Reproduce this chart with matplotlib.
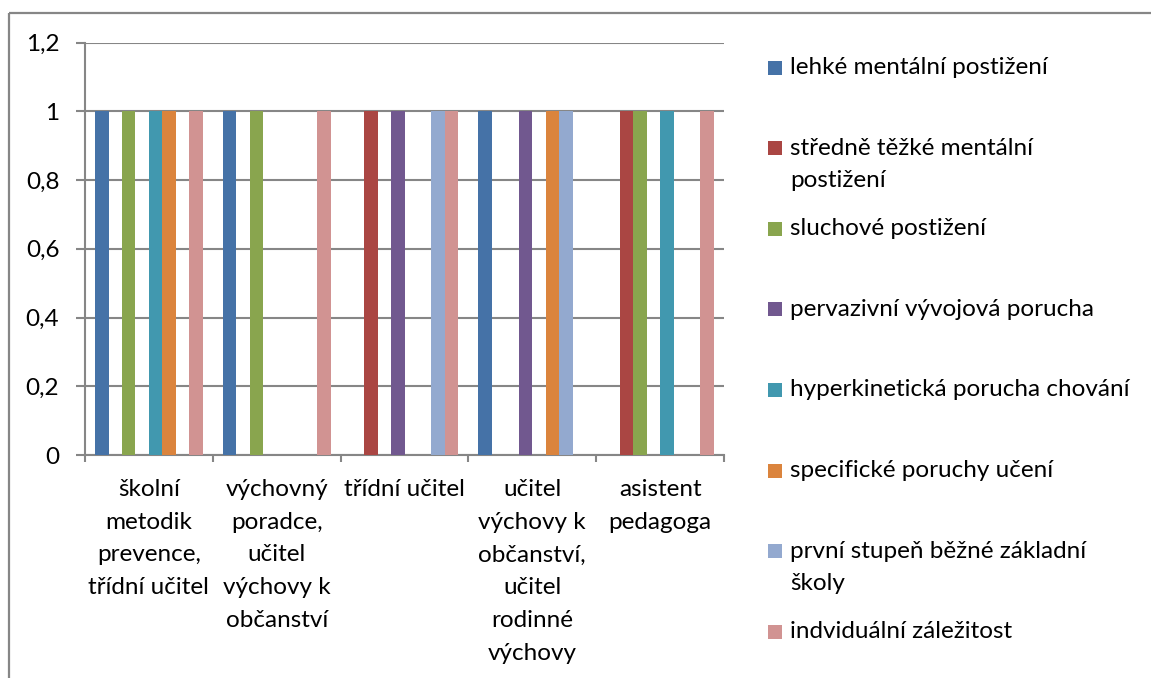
import matplotlib
matplotlib.use("Agg")
import matplotlib.pyplot as plt
from matplotlib.patches import Rectangle
from matplotlib.lines import Line2D
import numpy as np

plt.rcParams['font.family'] = ['Lato', 'DejaVu Sans']

categories = [
    "školní\nmetodik\nprevence,\ntřídní učitel",
    "výchovný\nporadce,\nučitel\nvýchovy k\nobčanství",
    "třídní učitel",
    "učitel\nvýchovy k\nobčanství,\nučitel\nrodinné\nvýchovy",
    "asistent\npedagoga",
]
series_names = [
    "lehké mentální postižení",
    "středně těžké mentální\npostižení",
    "sluchové postižení",
    "pervazivní vývojová porucha",
    "hyperkinetická porucha chování",
    "specifické poruchy učení",
    "první stupeň běžné základní\nškoly",
    "indviduální záležitost",
]
colors = ["#4572A7", "#AA4643", "#89A54E", "#71588F",
          "#4198AF", "#DB843D", "#93A9CF", "#D19392"]

lehke = [1, 1, 0, 1, 0]
stredne = [0, 0, 1, 0, 1]
sluchove = [1, 1, 0, 0, 1]
pervazivni = [0, 0, 1, 1, 0]
hyperkineticka = [1, 0, 0, 0, 1]
specificke = [1, 0, 0, 1, 0]
prvni_stupen = [0, 0, 1, 1, 0]
individualni = [1, 1, 1, 0, 1]
values = [lehke, stredne, sluchove, pervazivni,
          hyperkineticka, specificke, prvni_stupen, individualni]

yticks = [0, 0.2, 0.4, 0.6, 0.8, 1.0, 1.2]
ytick_labels = ["0", "0,2", "0,4", "0,6", "0,8", "1", "1,2"]

W, H = 1151, 678
FS = 17.5
fig = plt.figure(figsize=(W / 100, H / 100), dpi=100)
gray = "#868686"

# outer chart frame (left and top edges visible)
fig.add_artist(Line2D([9 / W, 9 / W], [0.0, (H - 13) / H],
                      transform=fig.transFigure, color=gray, linewidth=1.6,
                      solid_capstyle='butt'))
fig.add_artist(Line2D([9 / W, 1.0], [(H - 13) / H, (H - 13) / H],
                      transform=fig.transFigure, color=gray, linewidth=1.6,
                      solid_capstyle='butt'))

ax = fig.add_axes([85 / W, (H - 455) / H, (724 - 85) / W, (455 - 42.5) / H])

n = len(values)
bw = 1 / (n + 1.5)
x = np.arange(len(categories))
for i, (vals, c) in enumerate(zip(values, colors)):
    ax.bar(x + (i - (n - 1) / 2) * bw, vals, width=bw, color=c, zorder=3)

ax.set_xlim(-0.5, len(categories) - 0.5)
ax.set_ylim(0, 1.2)
ax.set_yticks(yticks)
ax.set_yticklabels(ytick_labels, fontsize=FS)
ax.yaxis.grid(True, color=gray, linewidth=1.5, zorder=0)
ax.set_axisbelow(True)
for s in ["top", "right"]:
    ax.spines[s].set_visible(False)
for s in ["left", "bottom"]:
    ax.spines[s].set_color(gray)
    ax.spines[s].set_linewidth(1.5)
ax.tick_params(axis='y', length=6.5, width=1.5, color=gray, pad=12)

ax.set_xticks(x)
ax.set_xticklabels(categories, fontsize=FS, linespacing=1.7)
ax.set_xticks(np.arange(len(categories) + 1) - 0.5, minor=True)
ax.tick_params(axis='x', which='major', length=0, pad=17)
ax.tick_params(axis='x', which='minor', length=5, width=1.5, color=gray)

# legend
leg_y0 = 67.5
leg_step = 80.6
for i, (name, c) in enumerate(zip(series_names, colors)):
    yc = leg_y0 + i * leg_step
    fig.patches.append(Rectangle((768 / W, (H - yc - 7) / H), 14 / W, 14 / H,
                                 transform=fig.transFigure, facecolor=c,
                                 edgecolor='none'))
    fig.text(790 / W, (H - yc + 10.5) / H, name, fontsize=FS, va='top',
             ha='left', linespacing=1.65)

fig.savefig("out.png", dpi=100)
